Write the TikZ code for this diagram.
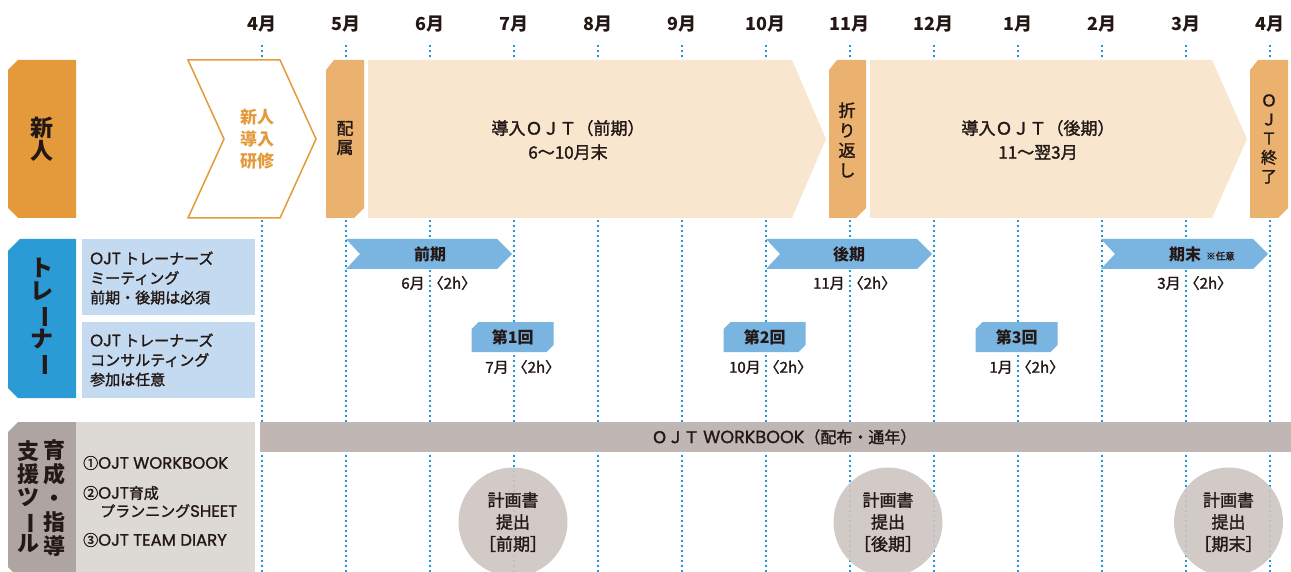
\documentclass[tikz,border=0pt]{standalone}
\usepackage{fontspec}
\setmainfont{Noto Sans CJK JP}
\newfontfamily\jpm{Noto Sans CJK JP}[FakeBold=1.6]
\newfontfamily\lat{Poppins}[FakeBold=1.2, Scale=1.1]
\definecolor{txt}{HTML}{231815}
\definecolor{orD}{HTML}{E49A3A}
\definecolor{orM}{HTML}{EBB26F}
\definecolor{bge}{HTML}{F8E6CE}
\definecolor{blD}{HTML}{2B9BD5}
\definecolor{blL}{HTML}{C3DAF0}
\definecolor{blA}{HTML}{7AB4E0}
\definecolor{grD}{HTML}{AEA4A1}
\definecolor{grL}{HTML}{DDD9D5}
\definecolor{grB}{HTML}{C0B7B4}
\definecolor{grC}{HTML}{CDC6C2}
\definecolor{dotc}{HTML}{1E96D8}
\newcommand\jsz[2]{\fontsize{#1}{#2}\selectfont}
\newcommand\vbar{\rotatebox[origin=c]{-90}{ー}}
\tikzset{
  mon/.style={font=\bfseries\jsz{18}{20}, text=txt, inner sep=0pt},
  vt/.style={align=center, inner sep=0pt, text=txt},
  dotline/.style={draw=dotc, line width=2.4pt, dash pattern=on 2pt off 3pt},
  bx/.style={anchor=west, align=left, inner sep=0pt, text=txt, font=\jpm\jsz{15}{19.5}},
  lbl/.style={inner sep=0pt, text=txt, font=\jpm\jsz{15}{18}},
  arw/.style={inner sep=0pt, text=txt, font=\bfseries\jsz{16}{18}},
  circtxt/.style={align=center, inner sep=0pt, text=txt, font=\jpm\jsz{17}{22}},
}
\begin{document}
\begin{tikzpicture}[x=1pt,y=-1pt]
\useasboundingbox (0,0) rectangle (1291,572);
% month grid
\foreach \i/\m in {0/4,1/5,2/6,3/7,4/8,5/9,6/10,7/11,8/12,9/1,10/2,11/3,12/4}{
  \pgfmathsetmacro\xx{261.7+84*\i}
  \draw[dotline] (\xx,45) -- (\xx,572);
  \node[mon] (m\i) at (\xx,24) {\m 月};
}
% ---- row 1 : 新人
\fill[orD] (8,70) -- (18,60) -- (76,60) -- (76,218) -- (18,218) -- (8,208) -- cycle;
\node[vt, font=\bfseries\jsz{23}{23}] (shinjin) at (42,139) {新\\人};
\draw[orD, line width=1.5pt, fill=white] (188,60) -- (280,60) -- (316,139) -- (280,218) -- (188,218) -- (224,139) -- cycle;
\node[vt, text=orD, font=\bfseries\jsz{17}{22}] (kenshu) at (257,139) {新人\\導入\\研修};
\fill[orM] (326,70) -- (334,60) -- (364,60) -- (364,208) -- (354,218) -- (326,218) -- cycle;
\node[vt, font=\jpm\jsz{17}{19}] (haizoku) at (345,138) {配\\属};
\fill[bge] (368,60) -- (792,60) -- (826,139) -- (792,218) -- (368,218) -- cycle;
\node[vt, font=\jpm\jsz{17}{24}] (zenki) at (568,140) {導入ＯＪＴ（前期）\\6〜10月末};
\fill[orM] (829,70) -- (837,60) -- (866,60) -- (866,208) -- (856,218) -- (829,218) -- cycle;
\node[vt, font=\jpm\jsz{17}{20}] (orikaeshi) at (847,140) {折\\り\\返\\し};
\fill[bge] (870,60) -- (1212,60) -- (1247,139) -- (1212,218) -- (870,218) -- cycle;
\node[vt, font=\jpm\jsz{17}{24}] (kouki) at (1038,140) {導入ＯＪＴ（後期）\\11〜翌3月};
\fill[orM] (1250,70) -- (1258,60) -- (1288,60) -- (1288,208) -- (1278,218) -- (1250,218) -- cycle;
\node[vt, font=\jpm\jsz{16}{19}] (owari) at (1269,139) {Ｏ\\Ｊ\\Ｔ\\終\\了};
% ---- row 2 : トレーナー
\fill[blD] (8,251) -- (20,239) -- (76,239) -- (76,398) -- (18,398) -- (8,388) -- cycle;
\node[vt, font=\bfseries\jsz{23}{23}] (trainer) at (42,317) {ト\\レ\\\vbar\\ナ\\\vbar};
\fill[blL] (82,239) rectangle (255,315);
\fill[blL] (82,322) rectangle (255,398);
\node[bx] (meet) at (90,278) {{\lat OJT} トレーナーズ\\ミーティング\\前期・後期は必須};
\node[bx] (consul) at (90,360) {{\lat OJT} トレーナーズ\\コンサルティング\\参加は任意};
\fill[blA] (346,239) -- (497,239) -- (512,254) -- (497,269) -- (346,269) -- (360,254) -- cycle;
\node[arw] (a1) at (430,254) {前期};
\node[lbl] (l1) at (429.7,283) {\makebox[0pt][r]{6月\kern5pt}\makebox[0pt][l]{\kern-1pt〈2h〉}};
\fill[blA] (766,239) -- (917,239) -- (932,254) -- (917,269) -- (766,269) -- (780,254) -- cycle;
\node[arw] (a2) at (849,254) {後期};
\node[lbl] (l2) at (849.7,283) {\makebox[0pt][r]{11月\kern5pt}\makebox[0pt][l]{\kern-1pt〈2h〉}};
\fill[blA] (1101,239) -- (1253,239) -- (1268,254) -- (1253,269) -- (1101,269) -- (1115,254) -- cycle;
\node[arw] (a3) at (1185,254) {期末};
\node[inner sep=0pt, text=txt, font=\jpm\jsz{9.5}{10}, anchor=west] (nin) at (1206,256) {※任意};
\node[lbl] (l3) at (1185.7,283) {\makebox[0pt][r]{3月\kern5pt}\makebox[0pt][l]{\kern-1pt〈2h〉}};
\foreach \c/\n/\m [count=\k] in {512.7/1/7, 764.7/2/10, 1016.7/3/1}{
  \fill[blA] (\c-41,329) -- (\c-34,322) -- (\c+41,322) -- (\c+41,345) -- (\c+34,352) -- (\c-41,352) -- cycle;
  \node[arw] (k\k) at (\c,337) {第\n 回};
  \node[lbl] (kl\k) at (\c+1,367) {\makebox[0pt][r]{\m 月\kern5pt}\makebox[0pt][l]{\kern-1pt〈2h〉}};
}
% ---- row 3 : 育成・指導支援ツール
\fill[grD] (8,432) -- (18,422) -- (76,422) -- (76,572) -- (13,572) -- (8,567) -- cycle;
\node[vt, font=\bfseries\jsz{22}{24}] (ikusei) at (54,498) {育\\成\\・\\指\\導};
\node[vt, font=\bfseries\jsz{22}{23}] (shien) at (28,497) {支\\援\\ツ\\\vbar\\ル};
\fill[grL] (76,422) rectangle (255,572);
\node[lbl, anchor=west] (t1) at (83,463) {①{\lat OJT WORKBOOK}};
\node[lbl, anchor=west] (t2) at (83,493) {②{\lat OJT}育成};
\node[lbl, anchor=west] (t2b) at (100,511) {プランニング{\lat SHEET}};
\node[lbl, anchor=west] (t3) at (83,540) {③{\lat OJT TEAM DIARY}};
\fill[grB] (260,422) rectangle (1291,452);
\node[lbl, font=\jpm\jsz{16}{18}] (wb) at (784,437) {ＯＪＴ {\lat WORKBOOK}（配布・通年）};
\foreach \c/\t [count=\k] in {513/前期, 888/後期, 1228.5/期末}{
  \fill[grC, opacity=0.92] (\c,522) circle (54.5);
  \node[circtxt] (c\k) at (\c,522) {計画書\\提出\\［\t］};
}
\end{tikzpicture}
\end{document}
